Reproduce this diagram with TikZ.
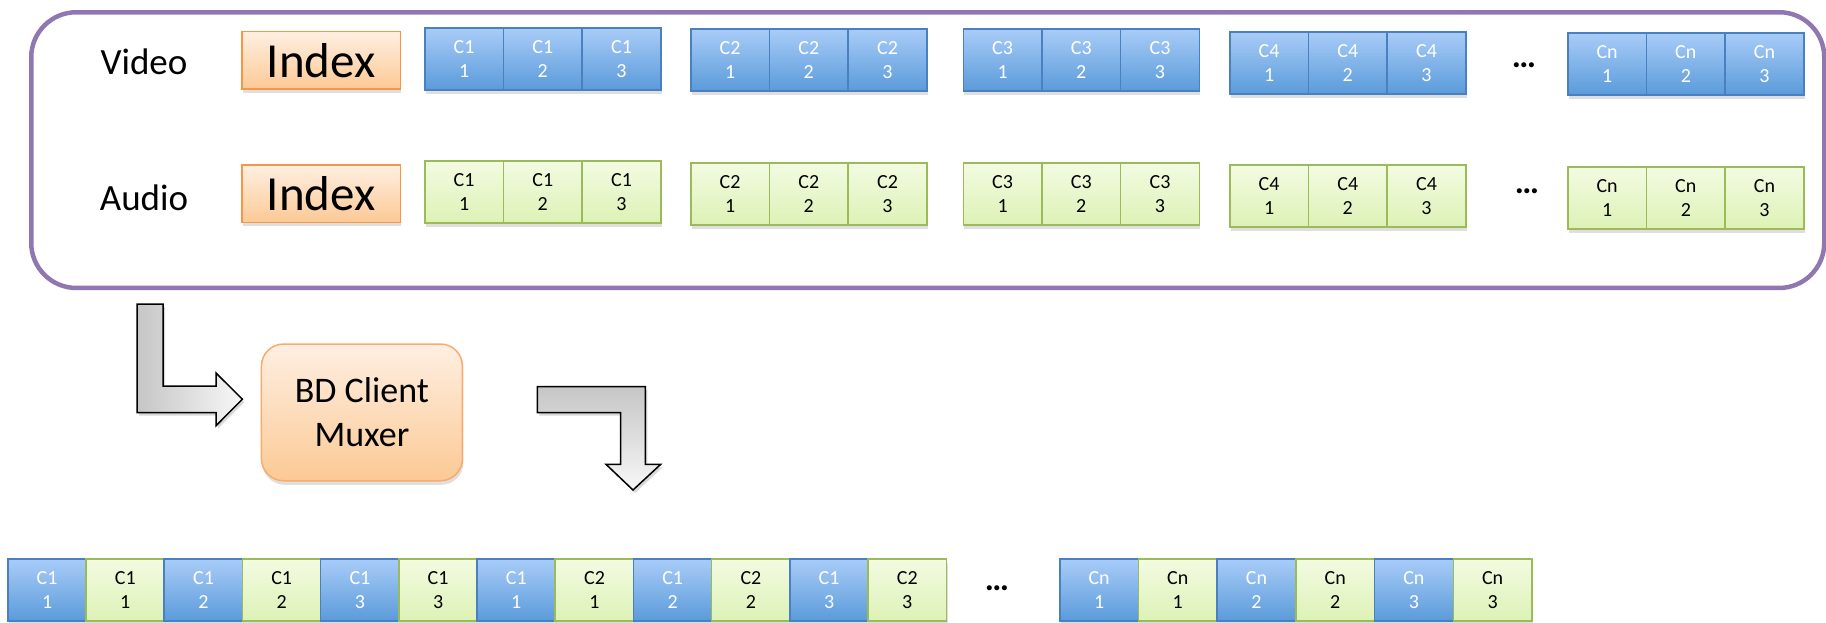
\documentclass[tikz,border=0pt]{standalone}
\usepackage{fontspec}
\setmainfont{Carlito}
\usetikzlibrary{shadows}
\definecolor{framepurple}{HTML}{9077B2}
\definecolor{bluetop}{HTML}{A9CCF8}
\definecolor{bluebot}{HTML}{5B9BDA}
\definecolor{blueline}{HTML}{4A80C0}
\definecolor{greentop}{HTML}{F3FBE2}
\definecolor{greenbot}{HTML}{DDF2B6}
\definecolor{greenline}{HTML}{9BBB59}
\definecolor{orangetop}{HTML}{FEEFE2}
\definecolor{orangebot}{HTML}{FCC995}
\definecolor{orangeline}{HTML}{F79646}
\newcommand\chunkfont{\fontsize{20}{24}\selectfont}
\begin{document}
\begin{tikzpicture}[x=1pt,y=-1pt,
  shad/.style={drop shadow={opacity=0.25, shadow xshift=1pt, shadow yshift=-4pt}},
  vbox/.style={shad, draw=blueline, line width=1.5pt, top color=bluetop, bottom color=bluebot,
    minimum width=78.7pt, minimum height=62pt, inner sep=0pt, text=white,
    font=\chunkfont, align=center, anchor=north west},
  abox/.style={vbox, draw=greenline, top color=greentop, bottom color=greenbot, text=black},
  idxbox/.style={shad, draw=orangeline, line width=1.5pt, top color=orangetop, bottom color=orangebot,
    minimum width=158.5pt, minimum height=57.6pt, inner sep=0pt, anchor=north west,
    font=\fontsize{49}{52}\selectfont},
  lbl/.style={font=\fontsize{37}{40}\selectfont, inner sep=0pt},
  dots/.style={font=\fontsize{34}{34}\selectfont\bfseries, inner sep=0pt},
  bigarrow/.style={draw=black, line width=1.5pt, line join=miter,
    drop shadow={opacity=0.3, shadow xshift=2pt, shadow yshift=-3pt}}
]
\useasboundingbox (0,0) rectangle (1826,622);
% outer frame
\node[draw=framepurple, line width=4.5pt, rounded corners=45pt, minimum width=1793pt,
  minimum height=275.7pt, anchor=north west, inner sep=0pt] (frame) at (29,10) {};
% labels
\node[lbl] (video) at (144,62) {Video};
\node[lbl] (audio) at (144,198) {Audio};
\node[idxbox] (vidx) at (241,30.7) {Index};
\node[idxbox] (aidx) at (241,164) {Index};
% video chunks
\foreach \x/\y/\c [count=\g] in {424/27/C1, 690/28/C2, 962.5/28/C3, 1229/31/C4, 1567/32/Cn} {
  \foreach \k in {1,2,3} {
    \node[vbox] (v\g\k) at ({\x+(\k-1)*78.7},\y) {\c\\\k};
  }
}
% audio chunks
\foreach \x/\y/\c [count=\g] in {424/160/C1, 690/162/C2, 962.5/162/C3, 1229/164/C4, 1567/166/Cn} {
  \foreach \k in {1,2,3} {
    \node[abox] (a\g\k) at ({\x+(\k-1)*78.7},\y) {\c\\\k};
  }
}
\node[dots] (vdots) at (1524,65) {…};
\node[dots] (adots) at (1527,191) {…};
% muxer
\node[shad, draw=orangeline!80!white, line width=1.5pt, top color=orangetop, bottom color=orangebot,
  rounded corners=22pt, minimum width=201pt, minimum height=136.7pt, anchor=north west,
  inner sep=0pt, align=center, font=\fontsize{36}{44}\selectfont] (mux) at (260.7,343.3) {BD Client\\Muxer};
% bent arrows
\coordinate (a1) at (137,304);
\coordinate (a2) at (537.4,386.7);
\path[bigarrow, left color=gray!45, right color=gray!6]
  (a1) -- ++(26,0) -- ++(0,82) -- ++(53,0) -- ++(0,-13) -- ++(26.4,26.2) -- ++(-26.4,26.5)
  -- ++(0,-13) -- ++(-79,0) -- cycle;
\path[bigarrow, top color=gray!45, bottom color=gray!6]
  (a2) -- ++(108,0) -- ++(0,77.6) -- ++(15.3,0) -- ++(-27.7,25.7) -- ++(-27,-25.7)
  -- ++(14.5,0) -- ++(0,-51.6) -- ++(-83.1,0) -- cycle;
% muxed stream
\foreach \s/\c/\k [count=\i from 0] in {vbox/C1/1, abox/C1/1, vbox/C1/2, abox/C1/2, vbox/C1/3, abox/C1/3,
    vbox/C1/1, abox/C2/1, vbox/C1/2, abox/C2/2, vbox/C1/3, abox/C2/3} {
  \node[\s] (m\i) at ({7+\i*78.2},558) {\c\\\k};
}
\node[dots] (mdots) at (997,588) {…};
\foreach \s/\k [count=\i from 0] in {vbox/1, abox/1, vbox/2, abox/2, vbox/3, abox/3} {
  \node[\s] (n\i) at ({1059+\i*78.7},558) {Cn\\\k};
}
\end{tikzpicture}
\end{document}
